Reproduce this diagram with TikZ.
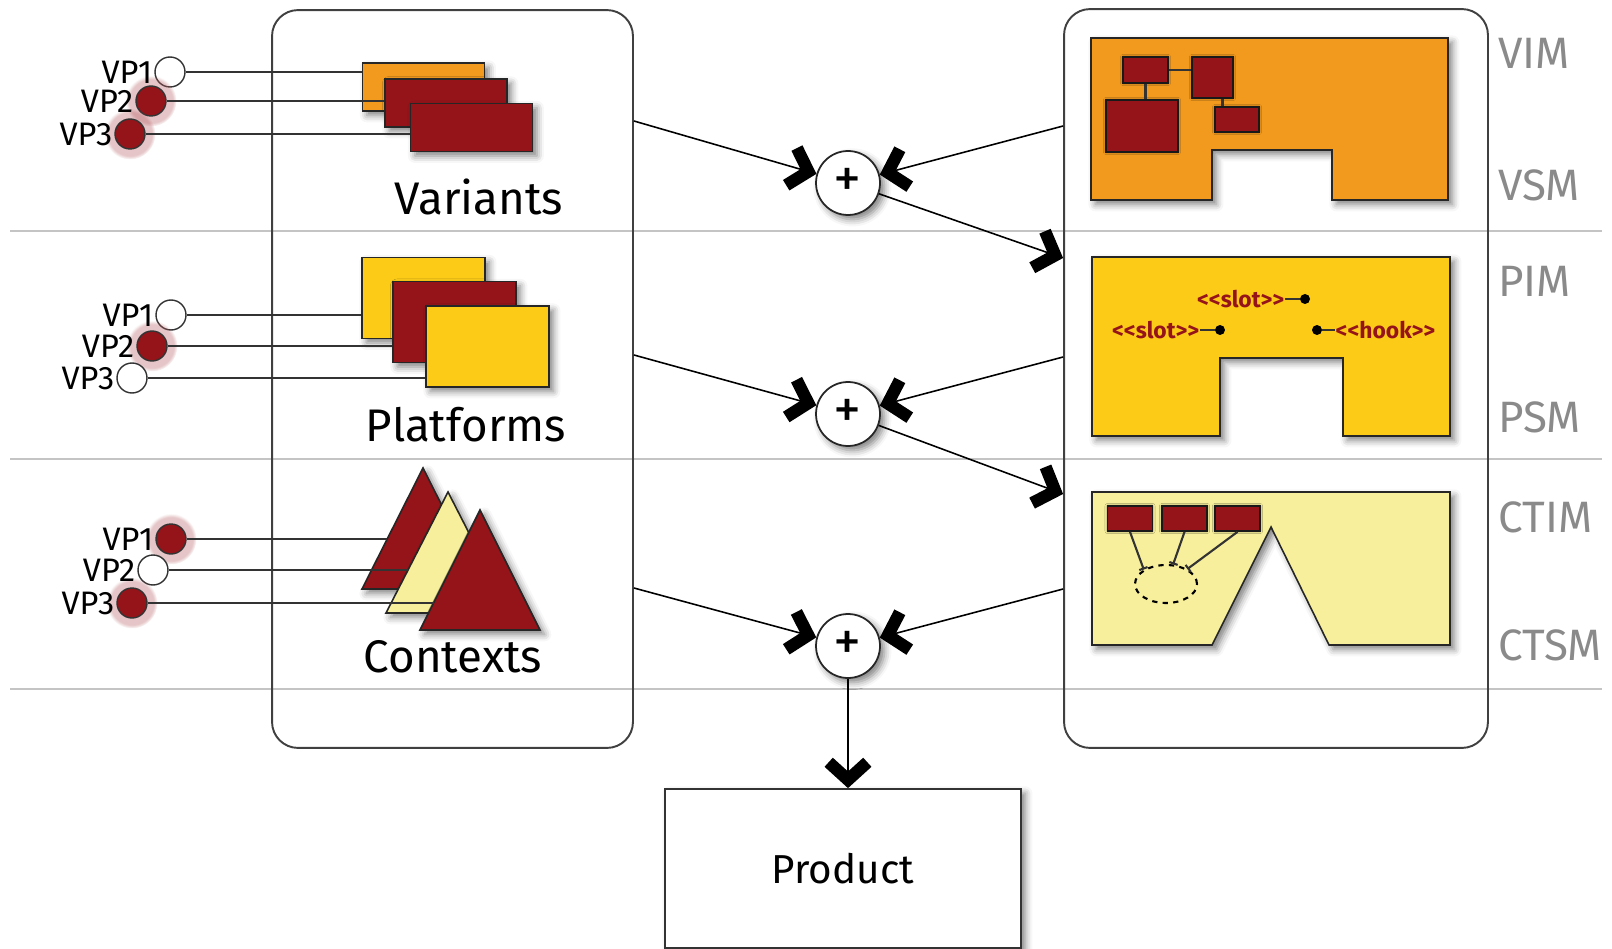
\documentclass[tikz,border=0pt]{standalone}
\usepackage{fontspec}
\setmainfont{Fira Sans}
\usepackage{xcolor}
\usetikzlibrary{positioning, arrows.meta, shapes.geometric, shadows, shadows.blur}

\definecolor{mdred}{HTML}{94141A}
\definecolor{mdorange}{HTML}{F29A1E}
\definecolor{mdyellow}{HTML}{FCCB17}
\definecolor{mdpale}{HTML}{F7EF9B}
\definecolor{mdgray}{HTML}{8A8A8A}
\definecolor{mdrule}{HTML}{C4C4C4}

\newcommand\dlt{<\kern0pt<}
\newcommand\dgt{>\kern0pt>}

\begin{document}
\begin{tikzpicture}[x=0.02cm, y=-0.02cm, node distance=0.3cm]
	
	% Styles
	\tikzset{
		panel/.style={draw=black!75, line width=1.1pt, rounded corners=0.52cm, inner sep=0pt},
		layerrule/.style={draw=mdrule, line width=1.1pt},
		vpoff/.style={circle, draw=black!80, fill=white, line width=0.8pt, minimum size=0.6cm, inner sep=0pt},
		vpon/.style={vpoff, fill=mdred, circular glow={fill=mdred!70, opacity=0.35, shadow scale=1.7}},
		vplabel/.style={font=\fontsize{18.5}{18.5}\selectfont, inner sep=0pt},
		vpline/.style={draw=black!80, line width=0.75pt},
		shade3d/.style={blur shadow={shadow xshift=2.5pt, shadow yshift=-2.5pt, shadow blur radius=4pt, shadow opacity=50}},
		card/.style={rectangle, draw=black!85, line width=0.8pt, inner sep=0pt, shade3d},
		varcard/.style={card, minimum width=2.44cm, minimum height=0.96cm},
		platcard/.style={card, minimum width=2.46cm, minimum height=1.62cm},
		rowtitle/.style={font=\fontsize{26}{26}\selectfont, inner sep=0pt},
		layername/.style={font=\fontsize{25}{25}\selectfont, text=mdgray, anchor=west, inner sep=0pt},
		model/.style={draw=black!85, line width=0.9pt, shade3d},
		part/.style={rectangle, draw=black!90, fill=mdred, line width=1pt, inner sep=0pt,
			blur shadow={shadow xshift=0pt, shadow yshift=0pt, shadow blur radius=1.5pt, shadow opacity=50}},
		partlink/.style={draw=black!80, line width=1.2pt},
		stereo/.style={font=\bfseries\fontsize{13}{13}\selectfont, text=mdred, inner sep=0pt},
		pindot/.style={circle, fill=black, minimum size=0.2cm, inner sep=0pt},
		plusnode/.style={circle, draw=black!85, fill=white, line width=1pt, minimum size=1.28cm, inner sep=0pt,
			font=\fontsize{32}{32}\selectfont, shade3d},
		feed/.style={line width=0.9pt, -{Straight Barb[length=10pt, width=22pt, line width=7pt]}},
		prodbox/.style={rectangle, draw=black!80, fill=white, line width=1pt, minimum width=7.12cm, minimum height=3.18cm,
			font=\fontsize{23}{23}\selectfont, shade3d}
	}
	
	\useasboundingbox (0,0) rectangle (1612,949);
	
	% Layer rules
	\draw[layerrule] (10,231) -- (1602,231);
	\draw[layerrule] (10,459) -- (1602,459);
	\draw[layerrule] (10,689) -- (1602,689);
	
	% Panels
	\node (featbox) [panel, minimum width=7.22cm, minimum height=14.76cm] at (452.5,379) {};
	\node (modelbox) [panel, minimum width=8.48cm, minimum height=14.78cm] at (1276,378.5) {};
	
	% Variants
	\node (varA) [varcard, fill=mdorange] at (423.5,87) {};
	\node (varB) [varcard, fill=mdred] at (446,103) {};
	\node (varC) [varcard, fill=mdred] at (471.5,127.5) {};
	\node (vartitle) [rowtitle] at (479,197) {Variants};
	
	% Platforms
	\node (platA) [platcard, fill=mdyellow] at (423.5,298) {};
	\node (platB) [platcard, fill=mdred] at (454.5,322) {};
	\node (platC) [platcard, fill=mdyellow] at (487.5,346.5) {};
	\node (plattitle) [rowtitle] at (466,425) {Platforms};
	
	% Contexts
	\draw[model, fill=mdred] (423,468) -- (484,589) -- (362,589) -- cycle;
	\draw[model, fill=mdpale] (448,492) -- (510,613) -- (386,613) -- cycle;
	\draw[model, fill=mdred] (480,510) -- (540,630) -- (420,630) -- cycle;
	\coordinate (ctxA) at (387,539);
	\coordinate (ctxB) at (408,570);
	\coordinate (ctxC) at (433.5,603);
	\node (ctxtitle) [rowtitle] at (453,657) {Contexts};
	
	% Variation points
	\node (var1) [vpoff] at (170,72) {};
	\node (var2) [vpon] at (151,101) {};
	\node (var3) [vpon] at (130,134) {};
	\node (plat1) [vpoff] at (171,315) {};
	\node (plat2) [vpon] at (152,346) {};
	\node (plat3) [vpoff] at (132,378) {};
	\node (ctx1) [vpon] at (171,539) {};
	\node (ctx2) [vpoff] at (153,570) {};
	\node (ctx3) [vpon] at (132,603) {};
	\foreach \row in {var, plat, ctx}
		\foreach \i in {1,2,3}
			\node [vplabel, left=1pt of \row\i] {VP\i};
	
	\draw[vpline] (var1) -- (var1 -| varA.west);
	\draw[vpline] (var2) -- (var2 -| varB.west);
	\draw[vpline] (var3) -- (var3 -| varC.west);
	\draw[vpline] (plat1) -- (plat1 -| platA.west);
	\draw[vpline] (plat2) -- (plat2 -| platB.west);
	\draw[vpline] (plat3) -- (plat3 -| platC.west);
	\draw[vpline] (ctx1) -- (ctxA);
	\draw[vpline] (ctx2) -- (ctxB);
	\draw[vpline] (ctx3) -- (ctxC);
	
	% VIM / VSM model
	\draw[model, fill=mdorange] (1091,38) -- (1448,38) -- (1448,200) -- (1332,200) -- (1332,150)
		-- (1212,150) -- (1212,200) -- (1091,200) -- cycle;
	\node (vimA) [part, minimum width=0.9cm, minimum height=0.52cm] at (1145.5,70) {};
	\node (vimB) [part, minimum width=0.82cm, minimum height=0.82cm] at (1212.5,77.5) {};
	\node (vimC) [part, minimum width=1.44cm, minimum height=1.04cm] at (1142,126) {};
	\node (vimD) [part, minimum width=0.88cm, minimum height=0.5cm] at (1237,119.5) {};
	\draw[partlink] (vimA.east) -- (vimA.east -| vimB.west);
	\draw[partlink] (vimA.south) -- (vimA.south |- vimC.north);
	\draw[partlink] ([xshift=0.2cm]vimB.south) -- ([xshift=0.2cm]vimB.south |- vimD.north);
	
	% PIM / PSM model
	\draw[model, fill=mdyellow] (1092,257) -- (1450,257) -- (1450,436) -- (1343,436) -- (1343,358)
		-- (1220,358) -- (1220,436) -- (1092,436) -- cycle;
	\node (dotA) [pindot] at (1305,299) {};
	\node (dotB) [pindot] at (1220,330) {};
	\node (dotC) [pindot] at (1317,330) {};
	\node (slotA) [stereo, left=0.3cm of dotA] {\dlt slot\dgt};
	\node (slotB) [stereo, left=0.3cm of dotB] {\dlt slot\dgt};
	\node (hook) [stereo, right=0.26cm of dotC] {\dlt hook\dgt};
	\draw[partlink] (slotA) -- (dotA);
	\draw[partlink] (slotB) -- (dotB);
	\draw[partlink] (dotC) -- (hook);
	
	% CTIM / CTSM model
	\draw[model, fill=mdpale] (1092,492) -- (1450,492) -- (1450,645) -- (1329,645) -- (1271,527)
		-- (1212,645) -- (1092,645) -- cycle;
	\node (ctA) [part, minimum width=0.9cm, minimum height=0.5cm] at (1130,518.5) {};
	\node (ctB) [part, minimum width=0.9cm, minimum height=0.5cm] at (1184.5,518.5) {};
	\node (ctC) [part, minimum width=0.9cm, minimum height=0.5cm] at (1237.5,518.5) {};
	\node (ctgroup) [ellipse, draw, dashed, line width=1.2pt, minimum width=1.24cm, minimum height=0.76cm] at (1166,584) {};
	\draw[partlink, -{Bar[width=5pt]}] (ctA.south) -- (ctgroup.147);
	\draw[partlink, -{Bar[width=5pt]}] (ctB.south) -- (ctgroup.70);
	\draw[partlink, -{Bar[width=5pt]}] (ctC.south) -- (ctgroup.35);
	
	% Layer names
	\node [layername] at (1498,53) {VIM};
	\node [layername] at (1498,185) {VSM};
	\node [layername] at (1498,281) {PIM};
	\node [layername] at (1498,417) {PSM};
	\node [layername] at (1498,517) {CTIM};
	\node [layername] at (1498,645) {CTSM};
	
	% Weaving
	\node (sum1) [plusnode] at (848,183) {+};
	\node (sum2) [plusnode] at (848,414) {+};
	\node (sum3) [plusnode] at (848,646) {+};
	\node (product) [prodbox] at (843,868.5) {Product};
	
	\coordinate (varout) at (featbox.east |- 0,121);
	\coordinate (platout) at (featbox.east |- 0,355);
	\coordinate (ctxout) at (featbox.east |- 0,588);
	\coordinate (vimout) at (modelbox.west |- 0,126);
	\coordinate (pimout) at (modelbox.west |- 0,357);
	\coordinate (ctimout) at (modelbox.west |- 0,589);
	\coordinate (pimin) at (modelbox.west |- 0,258);
	\coordinate (ctimin) at (modelbox.west |- 0,494);
	
	\draw[feed] (varout) -- (sum1);
	\draw[feed] (vimout) -- (sum1);
	\draw[feed] (sum1) -- (pimin);
	\draw[feed] (platout) -- (sum2);
	\draw[feed] (pimout) -- (sum2);
	\draw[feed] (sum2) -- (ctimin);
	\draw[feed] (ctxout) -- (sum3);
	\draw[feed] (ctimout) -- (sum3);
	\draw[feed] (sum3) -- (sum3 |- product.north);
	
\end{tikzpicture}
\end{document}
